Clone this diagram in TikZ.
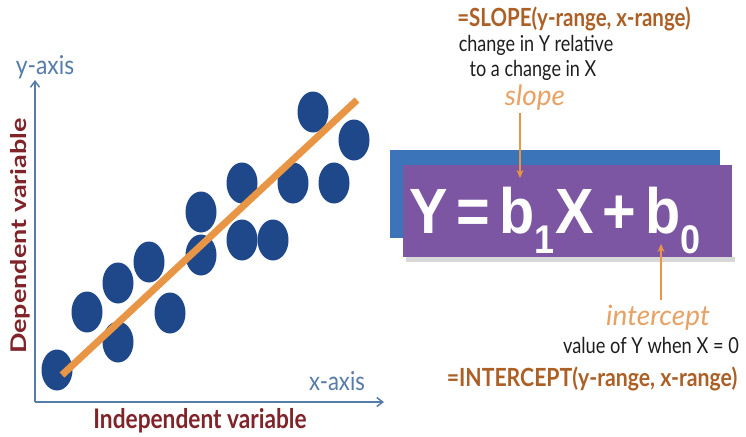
\documentclass[tikz,border=0pt]{standalone}
\usepackage{fontspec}
\setmainfont{Lato}
\newfontfamily\eqfont{Liberation Sans}
\usetikzlibrary{arrows.meta,shapes.geometric}
\definecolor{dotblue}{RGB}{30,72,138}
\definecolor{fitorange}{RGB}{232,150,70}
\definecolor{axisblue}{RGB}{86,124,170}
\definecolor{labelred}{RGB}{128,36,42}
\definecolor{fnbrown}{RGB}{172,96,38}
\definecolor{handorange}{RGB}{232,162,100}
\definecolor{boxblue}{RGB}{60,116,186}
\definecolor{boxpurple}{RGB}{124,86,162}
\definecolor{textgray}{RGB}{30,30,30}
\newcommand\hsq[2]{\scalebox{#1}[1]{#2}}
\newcommand\eqsub[1]{\raisebox{-20pt}{\fontsize{40}{40}\selectfont #1}}
\begin{document}
\begin{tikzpicture}[x=1pt,y=-1pt,
  dot/.style={ellipse,fill=dotblue,draw=none,minimum width=31pt,minimum height=41pt,inner sep=0pt},
  fitline/.style={draw=fitorange,line width=7pt},
  axis/.style={draw=axisblue,line width=2pt,-{Straight Barb[length=6pt,width=9pt,line width=1.5pt]}},
  axislabel/.style={text=axisblue,inner sep=0pt,font=\fontsize{26}{26}\selectfont},
  varlabel/.style={text=labelred,inner sep=0pt,font=\bfseries\fontsize{27}{27}\selectfont},
  fnlabel/.style={text=fnbrown,inner sep=0pt,font=\bfseries\fontsize{25}{25}\selectfont},
  note/.style={text=textgray,inner sep=0pt,font=\fontsize{22}{22}\selectfont},
  hand/.style={text=handorange,inner sep=0pt,font=\itshape\fontsize{28}{28}\selectfont},
  pointer/.style={draw=fitorange,line width=1.6pt,-{Stealth[length=8pt,width=7pt]}}
]
\useasboundingbox (0,0) rectangle (746,436);
\fill[white] (0,0) rectangle (746,436);

% axes
\coordinate (O) at (35,402);
\coordinate (ytip) at (35,80);
\coordinate (xtip) at (384,402);
\draw[axis] (O) -- (ytip);
\draw[axis] (O) -- (xtip);

% data points
\foreach \i/\px/\py in {1/57/370,2/87/312,3/118/283,4/118/342,5/149/262,6/170/313,7/201/212,8/201/255,9/242/183,10/242/240,11/273/240,12/293/183,13/313/112,14/334/183,15/354/140}
  \node[dot] (d\i) at (\px,\py) {};

% regression line
\coordinate (f1) at (62,375);
\coordinate (f2) at (357,100);
\draw[fitline] (f1) -- (f2);

% axis labels
\node[axislabel] (ylab) at (45,67) {\hsq{0.88}{y-axis}};
\node[axislabel] (xlab) at (337,381) {\hsq{0.85}{x-axis}};
\node[varlabel,rotate=90] (dep) at (20,236) {\scalebox{1}[0.8]{Dependent variable}};
\node[varlabel] (indep) at (200,421) {\hsq{0.84}{Independent variable}};

% equation boxes
\fill[black!25,opacity=0.6] (406,257) rectangle (735,262);
\fill[boxblue] (390,150) rectangle (720,238);
\fill[boxpurple] (403,165) rectangle (732,257);
\node[anchor=base west,inner sep=0pt,text=white,font=\eqfont\bfseries\fontsize{64}{64}\selectfont] (eq) at (409,233)
  {\hsq{0.9}{Y\hspace{10pt}=\hspace{10pt}b\eqsub{1}\hspace{1pt}X\hspace{10pt}+\hspace{10pt}b\eqsub{0}}};

% slope annotation
\node[fnlabel] (slopefn) at (574,19) {\hsq{0.82}{=SLOPE(y-range, x-range)}};
\node[note] (n1) at (536,45) {\hsq{0.82}{change in Y relative}};
\node[note] (n2) at (533,70) {\hsq{0.82}{to a change in X}};
\node[hand] (slope) at (535,98) {slope};
\coordinate (sa) at (520,113);
\coordinate (sb) at (520,178);
\draw[pointer] (sa) -- (sb);

% intercept annotation
\coordinate (ia) at (661,300);
\coordinate (ib) at (661,244);
\draw[pointer] (ia) -- (ib);
\node[hand] (icpt) at (658,318) {intercept};
\node[note] (n3) at (651,345) {\hsq{0.83}{value of Y when X = 0}};
\node[fnlabel] (icptfn) at (592,379) {\hsq{0.85}{=INTERCEPT(y-range, x-range)}};
\end{tikzpicture}
\end{document}
